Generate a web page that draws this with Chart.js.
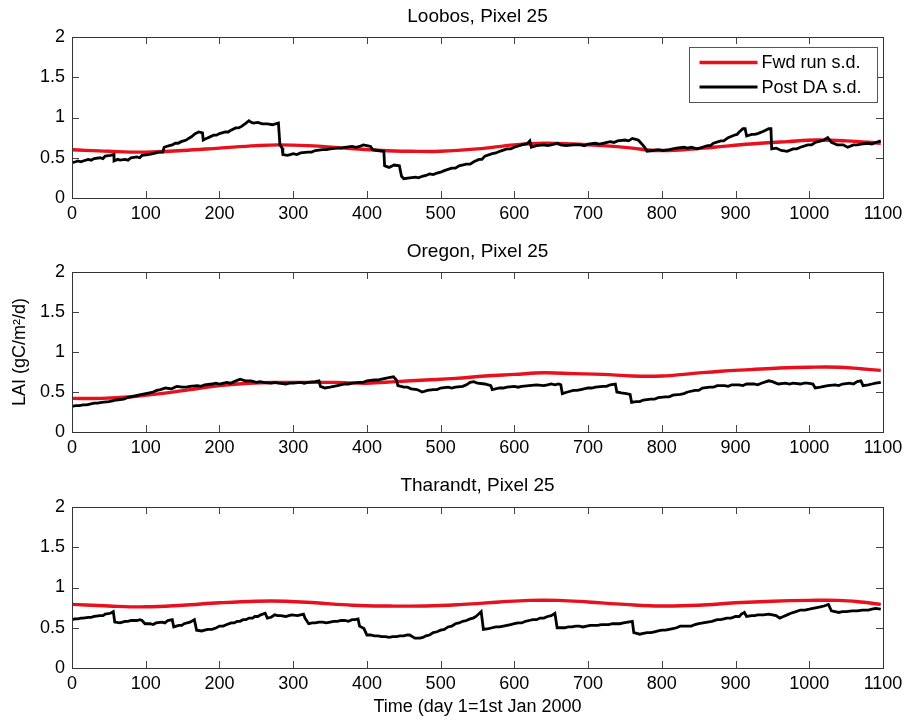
<!DOCTYPE html>
<html>
<head>
<meta charset="utf-8">
<title>LAI s.d. - Loobos, Oregon, Tharandt</title>
<script src="https://cdn.jsdelivr.net/npm/chart.js@4.4.1/dist/chart.umd.min.js"></script>
<style>
    body { margin: 0; background: #fff; }
    #wrap { position: relative; width: 909px; height: 721px; }
    canvas { position: absolute; left: 0; }
</style>
</head>
<body>
<div id="wrap">
    <canvas id="loobosChart" width="909" height="232" style="top:0px"></canvas>
    <canvas id="oregonChart" width="909" height="234" style="top:232px"></canvas>
    <canvas id="tharandtChart" width="909" height="255" style="top:466px"></canvas>
</div>
<script>
// [day, s.d.] pairs per site
const loobosFwd = [
    [0, 0.60], [50, 0.58], [100, 0.57], [150, 0.59], [200, 0.62], [250, 0.65], [280, 0.66],
    [320, 0.65], [370, 0.62], [420, 0.59], [460, 0.58], [500, 0.58], [550, 0.61], [600, 0.66],
    [640, 0.68], [680, 0.67], [720, 0.65], [760, 0.62], [790, 0.59], [830, 0.60], [870, 0.63],
    [920, 0.67], [970, 0.70], [1010, 0.72], [1050, 0.71], [1097, 0.68]
];
const loobosPost = [
    [0, 0.44], [5, 0.45], [8, 0.46], [12, 0.45], [15, 0.46], [22, 0.48], [26, 0.47], [30, 0.49],
    [38, 0.50], [42, 0.49], [45, 0.52], [52, 0.53], [57, 0.54], [57, 0.46], [62, 0.48], [65, 0.47],
    [72, 0.48], [76, 0.47], [80, 0.50], [88, 0.51], [92, 0.50], [95, 0.53], [103, 0.54],
    [110, 0.55], [114, 0.56], [118, 0.57], [123, 0.57], [125, 0.63], [128, 0.64], [132, 0.65],
    [136, 0.66], [140, 0.68], [144, 0.68], [148, 0.70], [155, 0.72], [158, 0.74], [162, 0.76],
    [167, 0.80], [172, 0.82], [177, 0.81], [178, 0.72], [182, 0.74], [185, 0.75], [192, 0.78],
    [196, 0.78], [200, 0.80], [208, 0.82], [212, 0.82], [215, 0.84], [222, 0.87], [226, 0.87],
    [230, 0.89], [236, 0.93], [240, 0.96], [243, 0.94], [246, 0.93], [252, 0.94], [258, 0.92],
    [265, 0.92], [272, 0.91], [276, 0.92], [280, 0.93], [282, 0.66], [285, 0.62], [286, 0.54],
    [292, 0.53], [296, 0.54], [300, 0.55], [305, 0.54], [310, 0.56], [320, 0.57], [325, 0.57],
    [330, 0.59], [340, 0.60], [345, 0.60], [350, 0.61], [360, 0.62], [365, 0.62], [370, 0.63],
    [380, 0.64], [385, 0.63], [390, 0.64], [395, 0.66], [400, 0.65], [405, 0.64], [408, 0.60],
    [415, 0.59], [423, 0.58], [424, 0.40], [430, 0.38], [437, 0.41], [444, 0.40], [447, 0.27],
    [450, 0.24], [458, 0.25], [466, 0.26], [470, 0.25], [475, 0.27], [480, 0.28], [485, 0.30],
    [490, 0.29], [495, 0.31], [500, 0.32], [505, 0.34], [515, 0.37], [520, 0.37], [525, 0.40],
    [535, 0.42], [540, 0.42], [545, 0.45], [552, 0.48], [556, 0.48], [560, 0.52], [570, 0.55],
    [575, 0.56], [580, 0.58], [590, 0.61], [595, 0.61], [600, 0.63], [610, 0.66], [618, 0.68],
    [621, 0.71], [623, 0.63], [630, 0.65], [640, 0.66], [645, 0.65], [650, 0.66], [658, 0.68],
    [663, 0.66], [670, 0.65], [680, 0.66], [690, 0.66], [695, 0.65], [700, 0.67], [710, 0.68],
    [715, 0.67], [720, 0.68], [730, 0.70], [735, 0.69], [740, 0.71], [750, 0.72], [755, 0.71],
    [760, 0.74], [768, 0.72], [772, 0.68], [776, 0.64], [780, 0.58], [788, 0.59], [795, 0.60],
    [802, 0.59], [810, 0.60], [815, 0.61], [820, 0.62], [830, 0.63], [835, 0.62], [840, 0.63],
    [848, 0.61], [855, 0.63], [862, 0.65], [866, 0.65], [870, 0.68], [880, 0.71], [884, 0.71],
    [890, 0.75], [898, 0.78], [902, 0.79], [905, 0.82], [910, 0.86], [913, 0.86], [915, 0.77],
    [922, 0.79], [926, 0.79], [930, 0.80], [938, 0.83], [945, 0.86], [948, 0.86], [949, 0.61],
    [955, 0.62], [962, 0.59], [970, 0.58], [978, 0.61], [983, 0.61], [988, 0.63], [998, 0.66],
    [1003, 0.66], [1008, 0.69], [1016, 0.71], [1020, 0.72], [1025, 0.75], [1030, 0.69],
    [1038, 0.66], [1046, 0.66], [1052, 0.63], [1060, 0.66], [1065, 0.66], [1070, 0.67],
    [1080, 0.68], [1085, 0.67], [1090, 0.69], [1097, 0.71]
];

const oregonFwd = [
    [0, 0.42], [40, 0.42], [80, 0.44], [120, 0.48], [160, 0.53], [200, 0.58], [240, 0.61],
    [280, 0.62], [320, 0.62], [360, 0.62], [400, 0.61], [440, 0.63], [480, 0.65], [520, 0.67],
    [560, 0.70], [600, 0.72], [640, 0.74], [680, 0.73], [720, 0.72], [760, 0.70], [800, 0.70],
    [840, 0.73], [880, 0.76], [920, 0.78], [960, 0.80], [1000, 0.81], [1040, 0.81], [1070, 0.79],
    [1097, 0.77]
];
const oregonPost = [
    [0, 0.32], [5, 0.33], [10, 0.33], [15, 0.34], [20, 0.34], [30, 0.36], [35, 0.36], [40, 0.37],
    [50, 0.38], [55, 0.39], [60, 0.40], [70, 0.41], [75, 0.43], [80, 0.44], [90, 0.46],
    [100, 0.48], [105, 0.49], [110, 0.50], [115, 0.52], [120, 0.53], [127, 0.55], [135, 0.54],
    [142, 0.57], [150, 0.56], [155, 0.56], [160, 0.57], [170, 0.58], [175, 0.57], [180, 0.59],
    [190, 0.60], [195, 0.61], [200, 0.60], [210, 0.62], [215, 0.61], [220, 0.63], [228, 0.66],
    [235, 0.64], [243, 0.64], [250, 0.62], [255, 0.63], [260, 0.62], [270, 0.61], [275, 0.62],
    [280, 0.61], [290, 0.60], [295, 0.61], [300, 0.61], [310, 0.62], [315, 0.61], [320, 0.62],
    [330, 0.63], [335, 0.64], [337, 0.57], [343, 0.55], [350, 0.56], [355, 0.57], [360, 0.58],
    [370, 0.60], [375, 0.60], [380, 0.61], [390, 0.62], [395, 0.62], [400, 0.64], [410, 0.65],
    [415, 0.65], [420, 0.66], [430, 0.68], [436, 0.69], [440, 0.65], [442, 0.58], [450, 0.56],
    [455, 0.56], [460, 0.54], [468, 0.53], [475, 0.50], [482, 0.52], [490, 0.53], [495, 0.53],
    [500, 0.55], [510, 0.56], [515, 0.55], [520, 0.56], [530, 0.57], [535, 0.59], [540, 0.62],
    [545, 0.63], [550, 0.61], [560, 0.60], [568, 0.58], [570, 0.53], [580, 0.55], [585, 0.55],
    [590, 0.56], [600, 0.57], [605, 0.56], [610, 0.57], [620, 0.58], [630, 0.59], [640, 0.58],
    [645, 0.59], [650, 0.60], [655, 0.59], [660, 0.60], [663, 0.59], [665, 0.48], [672, 0.50],
    [680, 0.52], [685, 0.52], [690, 0.53], [700, 0.55], [705, 0.55], [710, 0.56], [720, 0.57],
    [725, 0.57], [730, 0.59], [737, 0.60], [739, 0.50], [745, 0.49], [752, 0.48], [757, 0.47],
    [759, 0.37], [765, 0.38], [770, 0.38], [775, 0.40], [785, 0.41], [790, 0.41], [795, 0.43],
    [805, 0.44], [810, 0.44], [815, 0.46], [825, 0.47], [830, 0.48], [835, 0.50], [845, 0.52],
    [850, 0.52], [855, 0.55], [865, 0.56], [870, 0.56], [875, 0.58], [885, 0.58], [890, 0.57],
    [895, 0.59], [905, 0.59], [910, 0.58], [915, 0.60], [925, 0.60], [930, 0.59], [935, 0.61],
    [945, 0.64], [950, 0.63], [958, 0.60], [968, 0.61], [973, 0.60], [978, 0.61], [988, 0.60],
    [993, 0.61], [998, 0.61], [1005, 0.60], [1008, 0.55], [1015, 0.56], [1020, 0.57],
    [1025, 0.58], [1035, 0.59], [1040, 0.58], [1045, 0.60], [1055, 0.61], [1060, 0.60],
    [1065, 0.63], [1070, 0.64], [1073, 0.58], [1080, 0.59], [1085, 0.60], [1090, 0.61],
    [1097, 0.62]
];

const tharandtFwd = [
    [0, 0.79], [50, 0.77], [100, 0.76], [150, 0.78], [200, 0.81], [250, 0.83], [290, 0.83],
    [330, 0.81], [380, 0.78], [430, 0.77], [480, 0.77], [530, 0.79], [580, 0.82], [620, 0.84],
    [660, 0.84], [700, 0.82], [750, 0.79], [800, 0.77], [850, 0.78], [900, 0.81], [950, 0.83],
    [1000, 0.84], [1040, 0.84], [1070, 0.82], [1097, 0.79]
];
const tharandtPost = [
    [0, 0.60], [4, 0.61], [8, 0.61], [12, 0.62], [15, 0.62], [22, 0.63], [26, 0.63], [30, 0.64],
    [38, 0.65], [42, 0.65], [45, 0.67], [52, 0.68], [56, 0.70], [58, 0.57], [65, 0.56],
    [72, 0.58], [76, 0.58], [80, 0.59], [88, 0.59], [92, 0.60], [95, 0.59], [99, 0.55],
    [106, 0.55], [110, 0.54], [114, 0.56], [122, 0.57], [126, 0.56], [130, 0.59], [136, 0.60],
    [138, 0.51], [145, 0.53], [149, 0.53], [152, 0.55], [160, 0.57], [166, 0.60], [169, 0.47],
    [176, 0.46], [180, 0.47], [184, 0.48], [190, 0.48], [196, 0.50], [200, 0.52], [205, 0.52],
    [210, 0.54], [216, 0.56], [220, 0.56], [224, 0.58], [228, 0.58], [232, 0.60], [236, 0.60],
    [240, 0.62], [245, 0.62], [248, 0.64], [252, 0.64], [256, 0.66], [262, 0.68], [265, 0.62],
    [270, 0.63], [275, 0.66], [279, 0.65], [283, 0.65], [290, 0.64], [294, 0.65], [298, 0.66],
    [306, 0.65], [310, 0.66], [314, 0.67], [316, 0.62], [321, 0.55], [326, 0.56], [330, 0.56],
    [335, 0.57], [340, 0.57], [345, 0.56], [350, 0.57], [355, 0.58], [360, 0.58], [365, 0.59],
    [370, 0.59], [375, 0.58], [380, 0.60], [384, 0.60], [388, 0.61], [390, 0.52], [396, 0.49],
    [400, 0.41], [405, 0.41], [410, 0.40], [415, 0.40], [420, 0.39], [425, 0.39], [430, 0.38],
    [435, 0.39], [440, 0.39], [445, 0.40], [450, 0.40], [455, 0.41], [458, 0.41], [465, 0.37],
    [472, 0.37], [476, 0.38], [480, 0.40], [485, 0.41], [490, 0.44], [495, 0.45], [500, 0.47],
    [505, 0.48], [510, 0.51], [515, 0.52], [520, 0.55], [525, 0.56], [530, 0.58], [535, 0.59],
    [540, 0.61], [544, 0.62], [548, 0.64], [555, 0.70], [558, 0.48], [565, 0.49], [570, 0.50],
    [575, 0.51], [580, 0.51], [585, 0.52], [590, 0.53], [595, 0.54], [600, 0.55], [605, 0.56],
    [610, 0.56], [615, 0.58], [620, 0.59], [625, 0.60], [630, 0.60], [635, 0.62], [640, 0.62],
    [645, 0.64], [650, 0.65], [655, 0.68], [658, 0.50], [663, 0.50], [668, 0.50], [673, 0.51],
    [678, 0.51], [683, 0.52], [688, 0.52], [693, 0.51], [698, 0.52], [703, 0.53], [708, 0.53],
    [713, 0.53], [718, 0.54], [723, 0.54], [728, 0.54], [733, 0.55], [738, 0.55], [743, 0.55],
    [748, 0.56], [754, 0.57], [760, 0.58], [762, 0.44], [766, 0.43], [770, 0.42], [775, 0.43],
    [780, 0.44], [785, 0.44], [790, 0.45], [795, 0.46], [800, 0.47], [805, 0.47], [810, 0.48],
    [815, 0.49], [820, 0.50], [825, 0.52], [830, 0.52], [835, 0.52], [840, 0.52], [845, 0.54],
    [850, 0.55], [856, 0.56], [862, 0.57], [868, 0.58], [875, 0.60], [880, 0.60], [888, 0.62],
    [894, 0.62], [900, 0.64], [905, 0.64], [908, 0.67], [912, 0.69], [915, 0.64], [922, 0.65],
    [926, 0.65], [930, 0.66], [938, 0.66], [945, 0.67], [950, 0.66], [955, 0.65], [960, 0.62],
    [965, 0.64], [970, 0.66], [975, 0.68], [982, 0.70], [988, 0.72], [994, 0.72], [1000, 0.73],
    [1005, 0.74], [1010, 0.75], [1015, 0.76], [1020, 0.77], [1026, 0.79], [1030, 0.71],
    [1035, 0.70], [1040, 0.69], [1045, 0.70], [1050, 0.70], [1058, 0.71], [1065, 0.71],
    [1072, 0.72], [1080, 0.72], [1085, 0.73], [1090, 0.74], [1097, 0.73]
];

const dayTicks = [0, 100, 200, 300, 400, 500, 600, 700, 800, 900, 1000, 1100];
const sdTicks = [0, 0.5, 1, 1.5, 2];

const FONT = "'Liberation Sans', Arial, sans-serif";

// inward tick marks on all four sides plus the box frame
const boxAxes = {
    id: 'boxAxes',
    afterDatasetsDraw(chart) {
        const { ctx, chartArea: a, scales: { x, y } } = chart;
        const len = 7;
        ctx.save();
        ctx.lineWidth = 1;
        ctx.strokeStyle = '#444';
        ctx.beginPath();
        x.ticks.forEach(t => {
            const px = Math.round(x.getPixelForValue(t.value)) + 0.5;
            ctx.moveTo(px, a.bottom); ctx.lineTo(px, a.bottom - len);
            ctx.moveTo(px, a.top); ctx.lineTo(px, a.top + len);
        });
        y.ticks.forEach(t => {
            const py = Math.round(y.getPixelForValue(t.value)) + 0.5;
            ctx.moveTo(a.left, py); ctx.lineTo(a.left + len, py);
            ctx.moveTo(a.right, py); ctx.lineTo(a.right - len, py);
        });
        ctx.stroke();
        ctx.strokeStyle = '#333';
        ctx.strokeRect(Math.round(a.left) + 0.5, Math.round(a.top) + 0.5,
            Math.round(a.right - a.left), Math.round(a.bottom - a.top));
        ctx.restore();
    }
};

// boxed legend in the top right corner of the plot
const boxLegend = {
    id: 'boxLegend',
    afterDraw(chart, args, opts) {
        if (!opts.show) return;
        const { ctx, chartArea: a } = chart;
        const w = 188, h = 55;
        const left = Math.round(a.right - 6 - w) + 0.5;
        const top = Math.round(a.top + 10) + 0.5;
        ctx.save();
        ctx.fillStyle = '#fff';
        ctx.fillRect(left, top, w, h);
        ctx.strokeStyle = '#555';
        ctx.lineWidth = 1;
        ctx.strokeRect(left, top, w, h);
        ctx.font = '18px ' + FONT;
        ctx.textBaseline = 'middle';
        chart.data.datasets.forEach((ds, i) => {
            const cy = top + 15 + i * 24.5;
            ctx.strokeStyle = ds.borderColor;
            ctx.lineWidth = ds.borderWidth;
            ctx.beginPath();
            ctx.moveTo(left + 10, cy);
            ctx.lineTo(left + 68, cy);
            ctx.stroke();
            ctx.fillStyle = '#000';
            ctx.fillText(ds.label, left + 72, cy + 1);
        });
        ctx.restore();
    }
};

function makePanel(canvasId, site, fwd, post, opts) {
    const ctx = document.getElementById(canvasId);
    return new Chart(ctx, {
        type: 'line',
        data: {
            datasets: [
                {
                    label: 'Fwd run s.d.',
                    data: fwd.map(p => ({ x: p[0], y: p[1] })),
                    borderColor: '#e8101c',
                    borderWidth: 3.4,
                    tension: 0.4,
                    pointRadius: 0,
                    order: 1
                },
                {
                    label: 'Post DA s.d.',
                    data: post.map(p => ({ x: p[0], y: p[1] })),
                    borderColor: '#000000',
                    borderWidth: 2.8,
                    tension: 0,
                    pointRadius: 0,
                    order: 0
                }
            ]
        },
        options: {
            responsive: false,
            animation: false,
            devicePixelRatio: 1,
            layout: { padding: { left: 0, right: 26, top: 0, bottom: 0 } },
            plugins: {
                legend: { display: false },
                tooltip: { enabled: false },
                title: {
                    display: true,
                    fullSize: false,
                    text: site + ', Pixel 25',
                    color: '#000',
                    font: { family: FONT, size: 19, weight: 'normal', lineHeight: 1.2 },
                    padding: opts.titlePad
                },
                boxLegend: { show: !!opts.legend }
            },
            scales: {
                x: {
                    type: 'linear',
                    min: 0,
                    max: 1100,
                    afterBuildTicks: s => { s.ticks = dayTicks.map(v => ({ value: v })); },
                    afterFit: s => { s.height = opts.xHeight; },
                    grid: { display: false, drawTicks: false },
                    border: { display: false },
                    ticks: {
                        color: '#000',
                        font: { family: FONT, size: 18 },
                        padding: 5,
                        maxRotation: 0,
                        autoSkip: false,
                        callback: v => String(v)
                    },
                    title: {
                        display: !!opts.xTitle,
                        text: opts.xTitle || '',
                        color: '#000',
                        font: { family: FONT, size: 18 },
                        padding: { top: 0, bottom: 3 }
                    }
                },
                y: {
                    min: 0,
                    max: 2,
                    afterBuildTicks: s => { s.ticks = sdTicks.map(v => ({ value: v })); },
                    afterFit: s => { s.width = 72; },
                    grid: { display: false, drawTicks: false },
                    border: { display: false },
                    ticks: {
                        color: '#000',
                        font: { family: FONT, size: 18 },
                        padding: 7,
                        callback: v => String(v)
                    },
                    title: {
                        display: !!opts.yTitle,
                        text: opts.yTitle || '',
                        color: '#000',
                        font: { family: FONT, size: 18 },
                        padding: { top: 9, bottom: 0 }
                    }
                }
            }
        },
        plugins: [boxAxes, boxLegend]
    });
}

// title block heights: padding + 19px * 1.2 line height
makePanel('loobosChart', 'Loobos', loobosFwd, loobosPost, {
    titlePad: { top: 5.5, bottom: 8.7 }, xHeight: 34, legend: true
});
makePanel('oregonChart', 'Oregon', oregonFwd, oregonPost, {
    titlePad: { top: 8.6, bottom: 8.6 }, xHeight: 34, yTitle: 'LAI (gC/m\u00B2/d)'
});
makePanel('tharandtChart', 'Tharandt', tharandtFwd, tharandtPost, {
    titlePad: { top: 8.6, bottom: 9.6 }, xHeight: 53, xTitle: 'Time (day 1=1st Jan 2000'
});
</script>
</body>
</html>
